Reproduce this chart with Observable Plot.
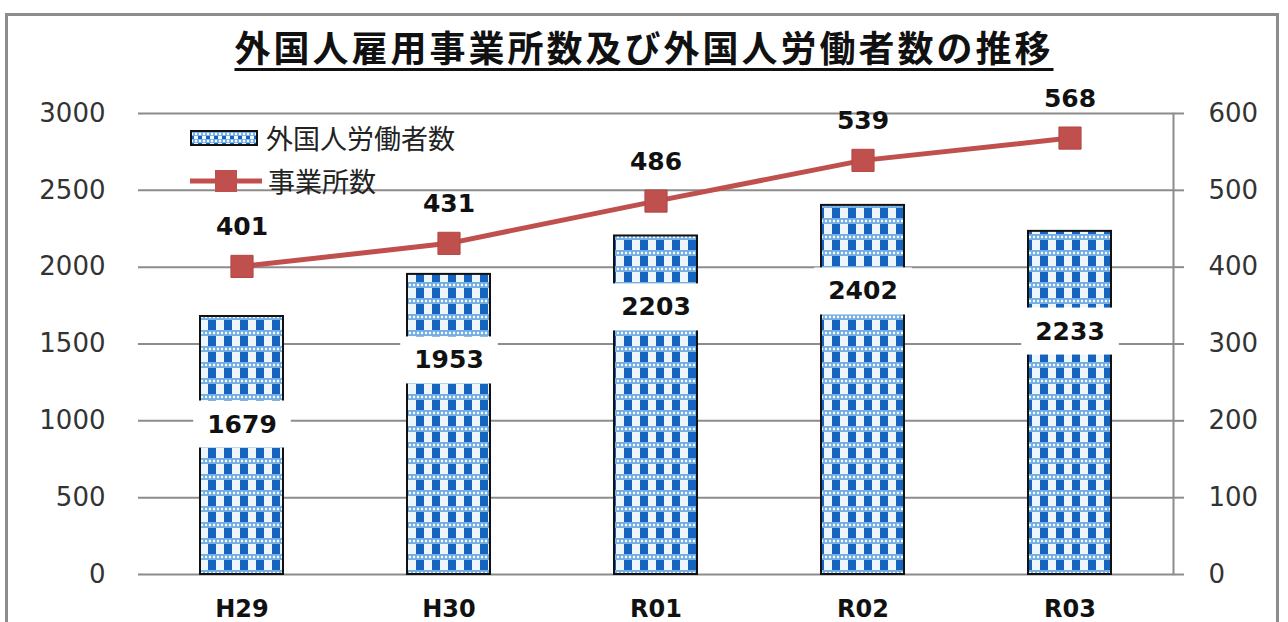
<!DOCTYPE html>
<html><head><meta charset="utf-8">
<script src="https://cdn.jsdelivr.net/npm/d3@7"></script>
<script src="https://cdn.jsdelivr.net/npm/@observablehq/plot@0.6"></script>
<style>
body{margin:0;background:#fff;}
#wrap{position:relative;width:1288px;height:622px;overflow:hidden;background:#fff;font-family:"DejaVu Sans",sans-serif;}
#frame{position:absolute;left:5px;top:13px;width:1274px;height:640px;border:3px solid #8c8c8c;box-sizing:border-box;}
#title{position:absolute;left:0;top:24px;width:1288px;text-align:center;font-family:"Noto Sans CJK JP",sans-serif;font-weight:bold;font-size:36px;letter-spacing:3px;color:#111;line-height:44px;}
#title span{text-decoration:underline;text-decoration-thickness:3px;text-underline-offset:6px;}
#chart{position:absolute;left:0;top:80px;}
.leg{position:absolute;left:190px;display:flex;align-items:center;font-family:"Noto Sans CJK JP",sans-serif;font-size:27px;color:#222;}
.leg svg{margin-right:6px;}
</style></head>
<body>
<div id="wrap">
  <div id="frame"></div>
  <div id="title"><span>外国人雇用事業所数及び外国人労働者数の推移</span></div>
  <div id="chart"></div>
  <div class="leg" style="top:118px;"><svg width="70" height="18"><rect x="1" y="2" width="66" height="14" fill="url(#chks)" stroke="#111" stroke-width="2"/></svg>外国人労働者数</div>
  <div class="leg" style="top:161px;"><svg width="72" height="24"><line x1="0" y1="12" x2="72" y2="12" stroke="#c0504d" stroke-width="5"/><rect x="25" y="1" width="22" height="22" fill="#c0504d"/></svg>事業所数</div>
</div>
<script>
const categories = ["H29", "H30", "R01", "R02", "R03"];
const workers = [1679, 1953, 2203, 2402, 2233];
const offices = [401, 431, 486, 539, 568];
const workerLabelAt = [976, 1393, 1738, 1842, 1581];
const leftTicks = [0, 500, 1000, 1500, 2000, 2500, 3000];
const rightRatio = 5; // right axis 0-600 maps onto left 0-3000

const data = categories.map((c, i) => ({
  cat: c, workers: workers[i], offices: offices[i], labelAt: workerLabelAt[i]
}));

const red = "#c0504d";
const grid = "#8c8c8c";

const plot = Plot.plot({
  width: 1288,
  height: 542,
  marginTop: 33,
  marginBottom: 48,
  marginLeft: 138,
  marginRight: 115,
  style: {fontFamily: "DejaVu Sans, sans-serif", background: "transparent", color: "#333"},
  x: {domain: categories, paddingInner: 0.6, paddingOuter: 0.3, label: null},
  y: {domain: [0, 3000], label: null},
  marks: [
    Plot.gridY(leftTicks, {stroke: grid, strokeOpacity: 1, strokeWidth: 2}),
    Plot.axisY(leftTicks, {anchor: "left", tickSize: 0, tickPadding: 33, fontSize: 26, label: null, fill: "#333",
      tickFormat: d => String(d)}),
    Plot.axisY(leftTicks, {anchor: "right", tickSize: 10, tickPadding: 25, fontSize: 26, label: null,
      tickFormat: d => String(d / rightRatio), stroke: grid, strokeWidth: 2, fill: "#333"}),
    Plot.frame({anchor: "right", stroke: grid, strokeWidth: 2}),
    Plot.axisX({tickSize: 0, tickPadding: 25, fontSize: 24, fontWeight: "bold", label: null, fill: "#111"}),
    Plot.barY(data, {x: "cat", y: "workers", fill: "url(#chk)", stroke: "#111", strokeWidth: 2}),
    Plot.text(data, {x: "cat", y: "labelAt", text: d => String(d.workers), fontSize: 25, fontWeight: "bold",
      fill: "#111", ariaDescription: "workerlabels"}),
    Plot.line(data, {x: "cat", y: d => d.offices * rightRatio, stroke: red, strokeWidth: 5}),
    Plot.dot(data, {x: "cat", y: d => d.offices * rightRatio, symbol: "square", r: 12.5, fill: red, stroke: "#b44541", strokeWidth: 1}),
    Plot.text(data, {x: "cat", y: d => d.offices * rightRatio, text: d => String(d.offices), dy: -39,
      fontSize: 25, fontWeight: "bold", fill: "#111"})
  ]
});

document.getElementById("chart").appendChild(plot);

const svg = d3.select(plot);
// white boxes behind the worker labels
svg.selectAll('g[aria-description="workerlabels"] text').each(function() {
  const b = this.getBBox();
  const r = document.createElementNS("http://www.w3.org/2000/svg", "rect");
  r.setAttribute("x", b.x - 14);
  r.setAttribute("y", b.y - 9);
  r.setAttribute("width", b.width + 28);
  r.setAttribute("height", b.height + 18);
  r.setAttribute("fill", "#fff");
  const t = this.getAttribute("transform");
  if (t) r.setAttribute("transform", t);
  this.parentNode.insertBefore(r, this);
});

// checkered pattern for bars
const defs = svg.insert("defs", ":first-child");
function makePattern(id, w, h, sq, sqh, band) {
  const pat = defs.append("pattern").attr("id", id).attr("patternUnits", "userSpaceOnUse")
    .attr("width", w).attr("height", h);
  pat.append("rect").attr("width", w).attr("height", h).attr("fill", "#ffffff");
  pat.append("rect").attr("x", 0).attr("y", 0).attr("width", sq).attr("height", sqh).attr("fill", "#1565c0");
  pat.append("rect").attr("x", sq).attr("y", 0).attr("width", w - sq).attr("height", sqh).attr("fill", "#eef6fd");
  pat.append("rect").attr("x", 0).attr("y", sqh).attr("width", w).attr("height", band).attr("fill", "#74aee3");
  for (let i = 0; i < w / 4; i++) {
    pat.append("circle").attr("cx", 2 + i * 4).attr("cy", sqh + band / 2).attr("r", 1.2).attr("fill", "#ffffff");
  }
}
makePattern("chk", 16, 16, 8, 10, 6);
makePattern("chks", 8, 7, 4, 3, 4);
</script>
</body></html>
